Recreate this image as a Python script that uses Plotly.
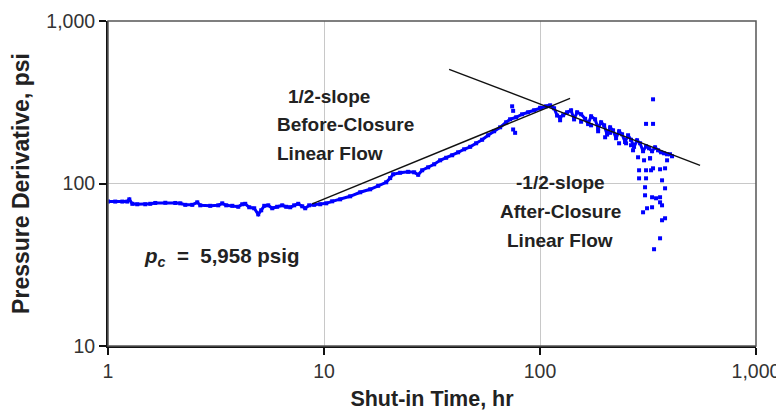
import plotly.graph_objects as go

# ---- data (shut-in time hr, pressure derivative psi) ----
time_hr = [1.00, 1.08, 1.165, 1.228, 1.255, 1.296, 1.366, 1.488, 1.569, 1.655,
           1.842, 2.048, 2.161, 2.279, 2.455, 2.590, 2.674, 2.974, 3.239, 3.380,
           3.527, 3.761, 4.009, 4.183, 4.319, 4.507, 4.753, 4.961, 5.122, 5.289,
           5.519, 5.759, 6.072, 6.405, 6.684, 6.975, 7.278, 7.597, 7.928, 8.185,
           8.541, 9.007, 9.603, 10.24, 10.91, 11.88, 13.22, 14.71, 16.36, 17.82,
           19.41, 20.25, 20.90, 22.52, 24.52, 26.15, 27.29, 28.48, 30.35, 32.36,
           34.50, 36.77, 39.21, 41.78, 44.55, 47.50, 50.62, 53.97, 57.54, 61.33,
           65.39, 69.69, 72.73, 77.54, 82.64, 88.10, 93.91, 100.1, 106.7, 111.4,
           116.2, 120.0, 123.9, 127.9, 133.5, 139.3, 143.8, 148.5, 155.0, 161.8,
           167.0, 172.4, 179.9, 185.8, 191.8, 198.1, 204.5, 211.1, 217.9, 225.0,
           232.3, 239.9, 247.6, 255.7, 263.9, 272.5, 281.4, 290.6, 300.0, 309.7,
           319.8, 330.2, 340.9, 352.0, 363.5, 375.3, 387.5, 399.9, 408.6]
derivative_psi = [77.4, 77.4, 77.4, 77.4, 79.9, 75.0, 74.5, 74.5, 75.0, 75.9,
                  76.1, 75.9, 75.5, 73.9, 73.9, 76.6, 73.4, 72.9, 73.4, 75.5,
                  73.4, 72.9, 71.9, 74.5, 75.0, 71.4, 70.4, 64.6, 68.4, 72.9,
                  73.4, 70.4, 71.9, 73.4, 71.9, 71.4, 73.4, 75.0, 72.4, 70.4,
                  73.4, 73.9, 74.5, 75.5, 77.7, 79.9, 83.4, 88.3, 92.1, 96.8,
                  101.7, 108.0, 114.0, 116.4, 118.0, 117.2, 113.1, 120.6, 125.8, 131.3,
                  138.9, 144.0, 149.2, 155.6, 162.4, 168.2, 176.8, 185.8, 198.1, 209.6,
                  221.7, 238.1, 248.4, 255.6, 266.7, 274.4, 282.2, 292.3, 298.6, 302.8,
                  290.3, 262.0, 255.6, 262.9, 274.4, 282.2, 248.0, 274.4, 266.7, 250.0,
                  232.0, 259.2, 248.4, 218.0, 238.1, 228.1, 200.0, 221.7, 212.5, 190.0,
                  209.6, 200.9, 180.0, 198.1, 185.8, 168.0, 184.5, 176.8, 158.0, 169.4,
                  164.7, 158.0, 167.0, 160.1, 155.6, 153.4, 151.3, 151.3, 147.1]

# scattered points away from the main trend
scatter_time_hr = [74.3, 75.1, 75.1, 76.7, 185.8, 200.2, 232.3, 250.3, 269.6, 284.4,
                   303.2, 309.7, 309.7, 287.5, 287.5, 306.4, 306.4, 300.0, 313.0, 323.2,
                   333.7, 333.7, 309.7, 326.7, 333.7, 344.5, 330.2, 330.2, 359.6, 359.6,
                   359.6, 367.3, 367.3, 367.3, 379.3, 379.3, 379.3, 359.6, 337.3, 323.2,
                   387.5, 123.9, 155.0, 172.4, 211.1, 263.9]
scatter_psi = [298.6, 280.0, 215.0, 205.0, 209.6, 192.5, 176.8, 176.8, 160.1, 145.0,
               138.9, 120.6, 107.6, 120.6, 107.6, 94.8, 84.6, 66.5, 70.4, 142.9,
               329.7, 232.8, 232.8, 120.6, 124.0, 81.1, 82.3, 71.4, 122.3, 82.3,
               76.6, 73.4, 104.6, 59.4, 93.4, 61.1, 124.0, 46.0, 39.4, 142.9,
               138.9, 245.0, 240.0, 228.0, 205.0, 172.0]

# straight-line fits (log-log)
half_slope_time = [8.82, 137.8]
half_slope_psi = [75.0, 334.5]
neg_half_slope_time = [37.96, 550.8]
neg_half_slope_psi = [504.5, 129.4]

x_tick_vals = [1, 10, 100, 1000]
x_tick_text = ["1", "10", "100", "1,000"]
y_tick_vals = [10, 100, 1000]
y_tick_text = ["10", "100", "1,000"]

FONT = "Liberation Sans, Arial, sans-serif"
BLUE = "#0000ff"

fig = go.Figure()
fig.add_trace(go.Scatter(
    x=time_hr, y=derivative_psi, mode="lines+markers",
    line=dict(color=BLUE, width=3),
    marker=dict(color=BLUE, size=4, symbol="square"),
    showlegend=False, hoverinfo="x+y"))
fig.add_trace(go.Scatter(
    x=scatter_time_hr, y=scatter_psi, mode="markers",
    marker=dict(color=BLUE, size=4, symbol="square"),
    showlegend=False))
fig.add_trace(go.Scatter(
    x=half_slope_time, y=half_slope_psi, mode="lines",
    line=dict(color="#111111", width=1.4), showlegend=False))
fig.add_trace(go.Scatter(
    x=neg_half_slope_time, y=neg_half_slope_psi, mode="lines",
    line=dict(color="#111111", width=1.4), showlegend=False))

axis_common = dict(
    type="log", showgrid=True, gridcolor="#c8c8c8", gridwidth=1,
    showline=True, linecolor="#111111", linewidth=2, mirror=False,
    ticks="outside", ticklen=7, tickwidth=1.5, tickcolor="#111111",
    tickfont=dict(family=FONT, size=19.5, color="#333333"),
    zeroline=False, automargin=False,
)
fig.update_xaxes(**axis_common, range=[0, 3], tickvals=x_tick_vals, ticktext=x_tick_text,
                 title=dict(text="<b>Shut-in Time, hr</b>", standoff=10,
                            font=dict(family=FONT, size=21.5, color="#222222")))
fig.update_yaxes(**axis_common, range=[1, 3], tickvals=y_tick_vals, ticktext=y_tick_text,
                 title=dict(text="<b>Pressure Derivative, psi</b>", standoff=12,
                            font=dict(family=FONT, size=23, color="#222222")))

ann_font = dict(family=FONT, size=19, color="#222222")
annotations = [
    dict(text="<b>1/2-slope</b>", x=0.275, y=0.768, xanchor="left"),
    dict(text="<b>Before-Closure</b>", x=0.258, y=0.682, xanchor="left"),
    dict(text="<b>Linear Flow</b>", x=0.258, y=0.593, xanchor="left"),
    dict(text="<b>-1/2-slope</b>", x=0.698, y=0.502, xanchor="center"),
    dict(text="<b>After-Closure</b>", x=0.698, y=0.413, xanchor="center"),
    dict(text="<b>Linear Flow</b>", x=0.698, y=0.326, xanchor="center"),
]
for a in annotations:
    a.update(xref="paper", yref="paper", yanchor="middle", showarrow=False, font=ann_font)
annotations.append(dict(
    text="<b><i>p</i><sub><i>c</i></sub>&nbsp; =&nbsp; 5,958 psig</b>", x=0.052, y=0.274,
    xanchor="left", yanchor="middle", xref="paper", yref="paper", showarrow=False,
    font=dict(family=FONT, size=20.5, color="#222222")))

# the page body adds an 8 px offset, so the figure is 8 px smaller than the window
fig.update_layout(
    width=776, height=407, autosize=False,
    margin=dict(l=100, r=28, t=13, b=69, autoexpand=False),
    paper_bgcolor="white", plot_bgcolor="white",
    annotations=annotations,
    shapes=[dict(type="rect", xref="paper", yref="paper", x0=0, y0=0, x1=1, y1=1,
                 line=dict(color="#555555", width=1.5), layer="above")],
)

fig.write_html("out.html")
